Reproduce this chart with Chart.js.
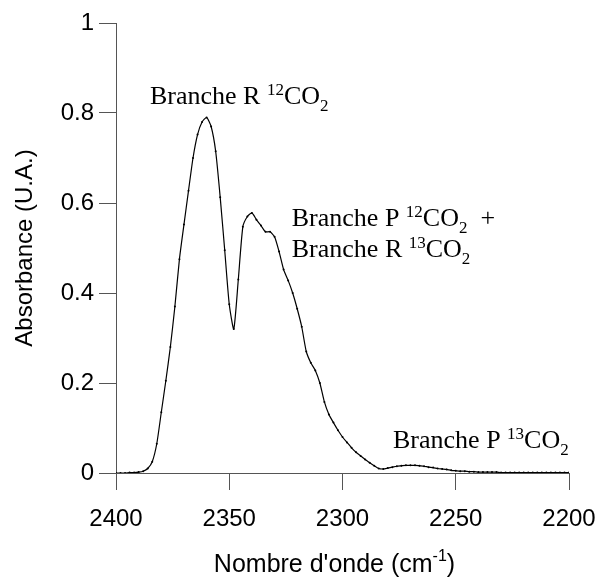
<!DOCTYPE html>
<html><head><meta charset="utf-8">
<script src="https://cdn.jsdelivr.net/npm/chart.js@4.4.0/dist/chart.umd.min.js"></script>
<style>html,body{margin:0;padding:0;background:#fff;}</style>
</head><body>
<canvas id="c" width="599" height="581"></canvas>
<script>
// ---- data ----
const wavenumbers = [
 2400,2398,2396,2394,2392,2390,2388,2386,2384,2382,2380,2378,2376,2374,2372,2370,2368,2366,2364,2362,
 2360,2358,2356,2354,2352,2350,2348,2346,2344,2342,2340,2338,2336,2334,2332,2330,2328,2326,2324,2322,
 2320,2318,2316,2314,2312,2310,2308,2306,2304,2302,2300,2298,2296,2294,2292,2290,2288,2286,2284,2282,
 2280,2278,2276,2274,2272,2270,2268,2266,2264,2262,2260,2258,2256,2254,2252,2250,2248,2246,2244,2242,
 2240,2238,2236,2234,2232,2230,2228,2226,2224,2222,2220,2218,2216,2214,2212,2210,2208,2206,2204,2202,2200];
const absorbance = [
 0.000,0.000,0.000,0.001,0.001,0.002,0.004,0.010,0.025,0.065,0.135,0.205,0.280,0.370,0.475,0.552,0.627,0.700,0.752,0.780,
 0.790,0.770,0.715,0.613,0.495,0.375,0.320,0.430,0.547,0.570,0.578,0.563,0.550,0.536,0.536,0.525,0.492,0.452,0.428,0.400,
 0.365,0.325,0.270,0.245,0.228,0.200,0.158,0.130,0.112,0.095,0.080,0.068,0.056,0.046,0.038,0.030,0.023,0.016,0.010,0.009,
 0.011,0.013,0.015,0.016,0.017,0.017,0.017,0.016,0.015,0.013,0.012,0.010,0.009,0.008,0.006,0.005,0.004,0.004,0.003,0.003,
 0.002,0.002,0.002,0.002,0.002,0.001,0.001,0.001,0.001,0.001,0.001,0.001,0.001,0.001,0.001,0.001,0.001,0.001,0.001,0.001,0.001];
const xTickValues = [2400, 2350, 2300, 2250, 2200];
const xTickLabels = ["2400", "2350", "2300", "2250", "2200"];
const yTickValues = [0, 0.2, 0.4, 0.6, 0.8, 1];
const yTickLabels = ["0", "0.2", "0.4", "0.6", "0.8", "1"];
const xTitleMain = "Nombre d'onde (cm";
const xTitleSup = "-1";
const xTitleEnd = ")";
const yTitle = "Absorbance (U.A.)";
// annotation anchors in data units (wavenumber, absorbance at text baseline)
const annotationX = [2385, 2322.4, 2322.4, 2277.7];
const annotationY = [0.819, 0.548, 0.480, 0.055];
const annotationRuns = [
  [["Branche R ","n"],["12","sup"],["CO","n"],["2","sub"]],
  [["Branche P ","n"],["12","sup"],["CO","n"],["2","sub"],["  +","n"]],
  [["Branche R ","n"],["13","sup"],["CO","n"],["2","sub"]],
  [["Branche P ","n"],["13","sup"],["CO","n"],["2","sub"]]
];

const AXIS_COLOR = '#555';
const SANS = 'Liberation Sans, Arial, sans-serif';
const SERIF = 'Liberation Serif, Times New Roman, serif';

const textPlugin = {
  id: 'texts',
  afterDraw(chart) {
    const ctx = chart.ctx;
    const xs = chart.scales.x, ys = chart.scales.y;
    ctx.save();
    ctx.fillStyle = '#000';
    ctx.textBaseline = 'alphabetic';
    ctx.textAlign = 'left';
    for (let i = 0; i < annotationRuns.length; i++) {
      let px = xs.getPixelForValue(annotationX[i]);
      const py = ys.getPixelForValue(annotationY[i]);
      for (const [t, k] of annotationRuns[i]) {
        let dy = 0;
        if (k === 'n') ctx.font = '26px ' + SERIF;
        else { ctx.font = '17px ' + SERIF; dy = (k === 'sup') ? -9 : 7; }
        ctx.fillText(t, px, py + dy);
        px += ctx.measureText(t).width;
      }
    }
    ctx.font = '25px ' + SANS;
    const w1 = ctx.measureText(xTitleMain).width;
    const w3 = ctx.measureText(xTitleEnd).width;
    ctx.font = '16px ' + SANS;
    const w2 = ctx.measureText(xTitleSup).width;
    const total = w1 + w2 + w3;
    const cx = (chart.chartArea.left + chart.chartArea.right) / 2 - 8;
    let x0 = cx - total / 2;
    const base = 572;
    ctx.font = '25px ' + SANS;
    ctx.fillText(xTitleMain, x0, base);
    ctx.font = '16px ' + SANS;
    ctx.fillText(xTitleSup, x0 + w1, base - 11);
    ctx.font = '25px ' + SANS;
    ctx.fillText(xTitleEnd, x0 + w1 + w2, base);
    ctx.restore();
  }
};

new Chart(document.getElementById('c'), {
  type: 'line',
  data: {
    datasets: [{
      data: wavenumbers.map((w, i) => ({ x: w, y: absorbance[i] })),
      borderColor: '#000',
      backgroundColor: '#000',
      borderWidth: 1.2,
      pointRadius: 1,
      pointBorderWidth: 0,
      pointBackgroundColor: '#000',
      tension: 0.2,
      fill: false
    }]
  },
  options: {
    responsive: false,
    animation: false,
    events: [],
    layout: { padding: { left: 0, right: 30, top: 23, bottom: 0 } },
    plugins: { legend: { display: false }, tooltip: { enabled: false }, title: { display: false } },
    scales: {
      x: {
        type: 'linear', reverse: true, min: 2200, max: 2400,
        afterBuildTicks: s => { s.ticks = xTickValues.map(v => ({ value: v })); },
        afterFit: s => { s.height = 108; s.paddingLeft = 0; s.paddingRight = 0; },
        ticks: { color: '#000', font: { family: SANS, size: 24 }, padding: 15, maxRotation: 0, autoSkip: false,
                 callback: (v) => { const i = xTickValues.indexOf(v); return i >= 0 ? xTickLabels[i] : ''; } },
        grid: { drawOnChartArea: false, drawTicks: true, tickLength: 17, color: AXIS_COLOR, lineWidth: 1 },
        border: { display: true, color: AXIS_COLOR, width: 1 },
        title: { display: false }
      },
      y: {
        type: 'linear', min: 0, max: 1,
        afterBuildTicks: s => { s.ticks = yTickValues.map(v => ({ value: v })); },
        afterFit: s => { s.width = 116; s.paddingTop = 0; s.paddingBottom = 0; },
        ticks: { color: '#000', font: { family: SANS, size: 24 }, padding: 5,
                 callback: (v) => { const i = yTickValues.findIndex(t => Math.abs(t - v) < 1e-9); return i >= 0 ? yTickLabels[i] : ''; } },
        grid: { drawOnChartArea: false, drawTicks: true, tickLength: 17, color: AXIS_COLOR, lineWidth: 1 },
        border: { display: true, color: AXIS_COLOR, width: 1 },
        title: { display: true, text: yTitle, color: '#000', font: { family: SANS, size: 24 }, padding: { top: 11, bottom: 0 } }
      }
    }
  },
  plugins: [textPlugin]
});
</script>
</body></html>
